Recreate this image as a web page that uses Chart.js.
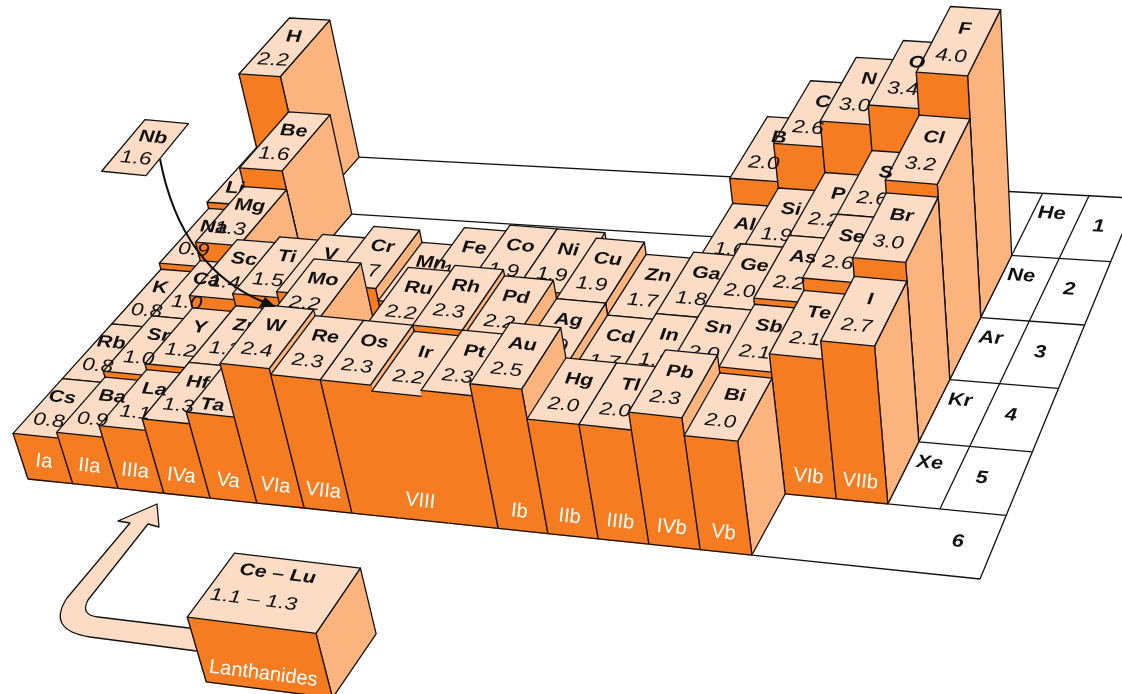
<!DOCTYPE html>
<html>

<head>
    <title>Electronegativity table</title>
    <style>
        html, body { margin: 0; padding: 0; background: #fff; }
        #wrap { width: 1122px; height: 694px; }
    </style>
</head>

<body>
    <div id="wrap"><canvas id="myChart" width="1122" height="694"></canvas></div>
    <script src="https://cdn.jsdelivr.net/npm/chart.js@4"></script>
    <script>
    // elements, listed period by period
    var symbols = [
        'H',
        'Li', 'Be', 'B', 'C', 'N', 'O', 'F',
        'Na', 'Mg', 'Al', 'Si', 'P', 'S', 'Cl',
        'K', 'Ca', 'Sc', 'Ti', 'V', 'Cr', 'Mn', 'Fe', 'Co', 'Ni', 'Cu', 'Zn', 'Ga', 'Ge', 'As', 'Se', 'Br',
        'Rb', 'Sr', 'Y', 'Zr', 'Mo', 'Ru', 'Rh', 'Pd', 'Ag', 'Cd', 'In', 'Sn', 'Sb', 'Te', 'I',
        'Cs', 'Ba', 'La', 'Hf', 'Ta', 'W', 'Re', 'Os', 'Ir', 'Pt', 'Au', 'Hg', 'Tl', 'Pb', 'Bi'
    ];
    var columns = [
        0,
        0, 1, 12, 13, 14, 15, 16,
        0, 1, 12, 13, 14, 15, 16,
        0, 1, 2, 3, 4, 5, 6, 7, 8, 9, 10, 11, 12, 13, 14, 15, 16,
        0, 1, 2, 3, 5, 7, 8, 9, 10, 11, 12, 13, 14, 15, 16,
        0, 1, 2, 3, 4, 5, 6, 7, 8, 9, 10, 11, 12, 13, 14
    ];
    var periods = [
        1,
        2, 2, 2, 2, 2, 2, 2,
        3, 3, 3, 3, 3, 3, 3,
        4, 4, 4, 4, 4, 4, 4, 4, 4, 4, 4, 4, 4, 4, 4, 4, 4,
        5, 5, 5, 5, 5, 5, 5, 5, 5, 5, 5, 5, 5, 5, 5,
        6, 6, 6, 6, 6, 6, 6, 6, 6, 6, 6, 6, 6, 6, 6
    ];
    var values = [
        2.2,
        1.0, 1.6, 2.0, 2.6, 3.0, 3.4, 4.0,
        0.9, 1.3, 1.6, 1.9, 2.2, 2.6, 3.2,
        0.8, 1.0, 1.4, 1.5, 1.6, 1.7, 1.6, 1.8, 1.9, 1.9, 1.9, 1.7, 1.8, 2.0, 2.2, 2.6, 3.0,
        0.8, 1.0, 1.2, 1.3, 2.2, 2.2, 2.3, 2.2, 1.9, 1.7, 1.8, 2.0, 2.1, 2.1, 2.7,
        0.8, 0.9, 1.1, 1.3, 1.5, 2.4, 2.3, 2.3, 2.2, 2.3, 2.5, 2.0, 2.0, 2.3, 2.0
    ];
    // bars whose drawn height differs from the printed value
    var tallNames = ['Te', 'F', 'O', 'H', 'Cr', 'Fe', 'Co', 'Ni'];
    var tallHeights = [2.4, 3.85, 3.3, 2.15, 1.8, 1.9, 2.0, 2.0];
    var hiddenValues = ['Li', 'V', 'Mn', 'Ta'];
    var groupLabels = ['Ia', 'IIa', 'IIIa', 'IVa', 'Va', 'VIa', 'VIIa', 'VIII', 'Ib', 'IIb', 'IIIb', 'IVb', 'Vb', 'VIb', 'VIIb'];
    var groupCols = [0.5, 1.5, 2.5, 3.5, 4.5, 5.5, 6.5, 8.5, 10.5, 11.5, 12.5, 13.5, 14.5, 15.5, 16.5];
    var groupRows = [6, 6, 6, 6, 6, 6, 6, 6, 6, 6, 6, 6, 6, 5, 5];
    var nobleGases = ['He', 'Ne', 'Ar', 'Kr', 'Xe'];
    var periodNumbers = ['1', '2', '3', '4', '5', '6'];

    var TOP = '#fcdcc4', FRONT = '#f57c20', SIDE = '#fbb47e';
    var COLS = 19.3, ROWS = 6, ZMAX = 5;

    // plane of the table on the page, and where the uprights converge
    var corners = [[320, 155], [1150, 199], [980, 579], [28, 479]];
    var VP = [1180, 4000];
    var kz = 0.08;
    // these sit a little right of their grid column in the drawing
    var nudged = ['Cr', 'Mn', 'Fe', 'Co', 'Ni'];

    function project(chart, c, r, z) {
        var a = chart.chartArea, s = chart.scales;
        var d = (s.x.getPixelForValue(c) - a.left) / a.width;
        var u = d * (0.903 + 0.097 * d); // columns widen slightly to the right
        var v = (s.y.getPixelForValue(r) - a.top) / a.height;
        var t = kz * (a.bottom - s.z.getPixelForValue(z)) / a.height;
        var out = [0, 1].map(function (k) {
            var back = corners[0][k] + (corners[1][k] - corners[0][k]) * u;
            var front = corners[3][k] + (corners[2][k] - corners[3][k]) * u;
            return back + (front - back) * v;
        });
        return [(out[0] - t * VP[0]) / (1 - t), (out[1] - t * VP[1]) / (1 - t)];
    }

    function poly(ctx, pts, fill) {
        ctx.beginPath();
        ctx.moveTo(pts[0][0], pts[0][1]);
        for (var i = 1; i < pts.length; i++) ctx.lineTo(pts[i][0], pts[i][1]);
        ctx.closePath();
        if (fill) { ctx.fillStyle = fill; ctx.fill(); }
        ctx.stroke();
    }

    function seg(ctx, a, b) {
        ctx.beginPath();
        ctx.moveTo(a[0], a[1]);
        ctx.lineTo(b[0], b[1]);
        ctx.stroke();
    }

    // text lying on the table plane, turned along the row direction
    function label(chart, txt, c, r, z, font, color, stretch) {
        var ctx = chart.ctx;
        var p = project(chart, c, r, z), q = project(chart, c + 1, r, z);
        ctx.save();
        ctx.translate(p[0], p[1]);
        ctx.rotate(Math.atan2(q[1] - p[1], q[0] - p[0]));
        ctx.scale(stretch || 1, 1);
        ctx.font = font;
        ctx.fillStyle = color;
        ctx.textAlign = 'center';
        ctx.textBaseline = 'middle';
        ctx.fillText(txt, 0, 0);
        ctx.restore();
    }

    function box(chart, c0, c1, r0, r1, z, name) {
        var ctx = chart.ctx;
        var tfl = project(chart, c0, r1, z), tfr = project(chart, c1, r1, z);
        var tbl = project(chart, c0, r0, z), tbr = project(chart, c1, r0, z);
        var bfl = project(chart, c0, r1, 0), bfr = project(chart, c1, r1, 0), bbr = project(chart, c1, r0, 0);
        ctx.strokeStyle = '#111';
        poly(ctx, [tfr, tbr, bbr, bfr], SIDE);
        // Os, Ir and Pt share one front, without dividers
        var noLeft = name == 'Ir' || name == 'Pt', noRight = name == 'Os' || name == 'Ir';
        ctx.strokeStyle = FRONT;
        poly(ctx, [tfl, tfr, bfr, bfl], FRONT);
        ctx.strokeStyle = '#111';
        seg(ctx, bfl, bfr);
        if (!noLeft) seg(ctx, tfl, bfl);
        if (!noRight) seg(ctx, tfr, bfr);
        poly(ctx, [tfl, tfr, tbr, tbl], TOP);
    }

    function floor(chart) {
        var ctx = chart.ctx, i;
        var edge = function (r) { return 19.02 + 0.0467 * r; };
        ctx.strokeStyle = '#111';
        seg(ctx, project(chart, 1, 0, 0), project(chart, edge(0), 0, 0));
        seg(ctx, project(chart, 2, 1, 0), project(chart, edge(1), 1, 0));
        for (i = 2; i < ROWS; i++) seg(ctx, project(chart, 16, i, 0), project(chart, edge(i), i, 0));
        seg(ctx, project(chart, 15, ROWS, 0), project(chart, edge(ROWS), ROWS, 0));
        seg(ctx, project(chart, edge(0), 0, 0), project(chart, edge(ROWS), ROWS, 0));
        seg(ctx, project(chart, 17, 0, 0), project(chart, 17, 5, 0));
        seg(ctx, project(chart, 18, 0, 0), project(chart, 18, 5, 0));
        var bold = 'italic bold 18px "Liberation Sans"';
        for (i = 0; i < nobleGases.length; i++) label(chart, nobleGases[i], 17.4, i + 0.31, 0, bold, '#111', 1.2);
        for (i = 0; i < periodNumbers.length; i++) label(chart, periodNumbers[i], i == 5 ? 18.6 : 18.5, i + 0.47, 0, bold, '#111', 1.2);
    }

    function peachArrow(ctx) {
        ctx.beginPath();
        ctx.moveTo(204, 652);
        ctx.lineTo(90, 637);
        ctx.quadraticCurveTo(46, 630, 67, 598);
        ctx.lineTo(130, 523);
        ctx.lineTo(118, 521);
        ctx.lineTo(157, 504);
        ctx.lineTo(159, 527);
        ctx.lineTo(148, 524);
        ctx.lineTo(88, 600);
        ctx.quadraticCurveTo(80, 615, 98, 617);
        ctx.lineTo(197, 629);
        ctx.closePath();
        ctx.fillStyle = TOP;
        ctx.fill();
        ctx.strokeStyle = '#111';
        ctx.stroke();
    }

    function curvedArrow(ctx) {
        ctx.strokeStyle = '#111';
        ctx.lineWidth = 2;
        ctx.beginPath();
        ctx.moveTo(160, 159);
        ctx.quadraticCurveTo(181, 269, 266, 303);
        ctx.stroke();
        ctx.fillStyle = '#111';
        ctx.beginPath();
        ctx.moveTo(276, 307);
        ctx.lineTo(259, 307);
        ctx.lineTo(265, 297);
        ctx.closePath();
        ctx.fill();
    }

    var boxesPlugin = {
        id: 'boxes',
        afterDatasetsDraw: function (chart) {
            var ctx = chart.ctx;
            var bold = 'italic bold 17px "Liberation Sans"', ital = 'italic 18px "Liberation Sans"';
            var white = '20px "Liberation Sans"';
            var pts = chart.data.datasets[0].data;
            ctx.save();
            ctx.lineWidth = 1.3;
            ctx.lineJoin = 'round';
            floor(chart);

            for (var period = 1; period <= 6; period++) {
                var row = pts.filter(function (d) { return d.period == period; });
                row.forEach(function (d) {
                    var c = d.col + (nudged.indexOf(d.name) < 0 ? 0 : 0.2);
                    box(chart, c, c + 1, period - 1, period, d.height, d.name);
                });
                row.forEach(function (d) {
                    var c = d.col + (nudged.indexOf(d.name) < 0 ? 0 : 0.2);
                    // Li and Ta have their value hidden, so the name sits lower
                    var nameCol = c + 0.5, nameRow = period - 0.68;
                    if (d.name == 'Ta') { nameCol = c + 0.4; nameRow = period - 0.15; }
                    if (d.name == 'Li') { nameCol = c + 0.35; nameRow = period - 0.27; }
                    if (d.col == 0 && period >= 4) nameCol = c + 0.35;
                    label(chart, d.name, nameCol, nameRow, d.height, bold, '#111', 1.25);
                    if (hiddenValues.indexOf(d.name) < 0)
                        label(chart, d.value.toFixed(1), c + 0.5, period - 0.27, d.height, ital, '#111', 1.25);
                });
            }
            groupLabels.forEach(function (g, i) {
                label(chart, g, groupCols[i], groupRows[i], 0.35, white, '#fff');
            });

            // lanthanides, set apart in front of the table
            peachArrow(ctx);
            box(chart, 6.6, 9.05, 7.9, 9, 1.2, 'Ce');
            label(chart, 'Ce – Lu', 7.65, 8.15, 1.2, bold, '#111', 1.25);
            label(chart, '1.1 – 1.3', 7.55, 8.6, 1.2, ital, '#111', 1.25);
            label(chart, 'Lanthanides', 7.8, 9, 0.3, white, '#fff');

            // Nb lifted out of its place
            var tile = [project(chart, 2.53, 5.2, 4.5), project(chart, 3.44, 5.2, 4.5), project(chart, 3.44, 4.33, 4.5), project(chart, 2.53, 4.33, 4.5)];
            ctx.strokeStyle = '#111';
            poly(ctx, tile, TOP);
            label(chart, 'Nb', 2.98, 4.6, 4.5, bold, '#111', 1.25);
            label(chart, '1.6', 2.98, 4.95, 4.5, ital, '#111', 1.25);
            curvedArrow(ctx);
            ctx.restore();
        }
    };

    var chartData = symbols.map(function (s, i) {
        var tall = tallNames.indexOf(s);
        return {
            x: columns[i] + 0.5, y: periods[i] - 0.5, name: s, col: columns[i], period: periods[i],
            value: values[i], height: tall < 0 ? values[i] : tallHeights[tall]
        };
    });

    var ctx = document.getElementById('myChart').getContext('2d');
    var chart = new Chart(ctx, {
        type: 'scatter',
        data: { datasets: [{ data: chartData, pointRadius: 0 }] },
        options: {
            responsive: false,
            animation: false,
            layout: { padding: 0 },
            plugins: { legend: { display: false }, tooltip: { enabled: false } },
            scales: {
                x: { display: false, min: 0, max: COLS },
                y: { display: false, min: 0, max: ROWS, reverse: true },
                z: { display: false, position: 'left', min: 0, max: ZMAX }
            }
        },
        plugins: [boxesPlugin]
    });
    </script>
</body>

</html>
